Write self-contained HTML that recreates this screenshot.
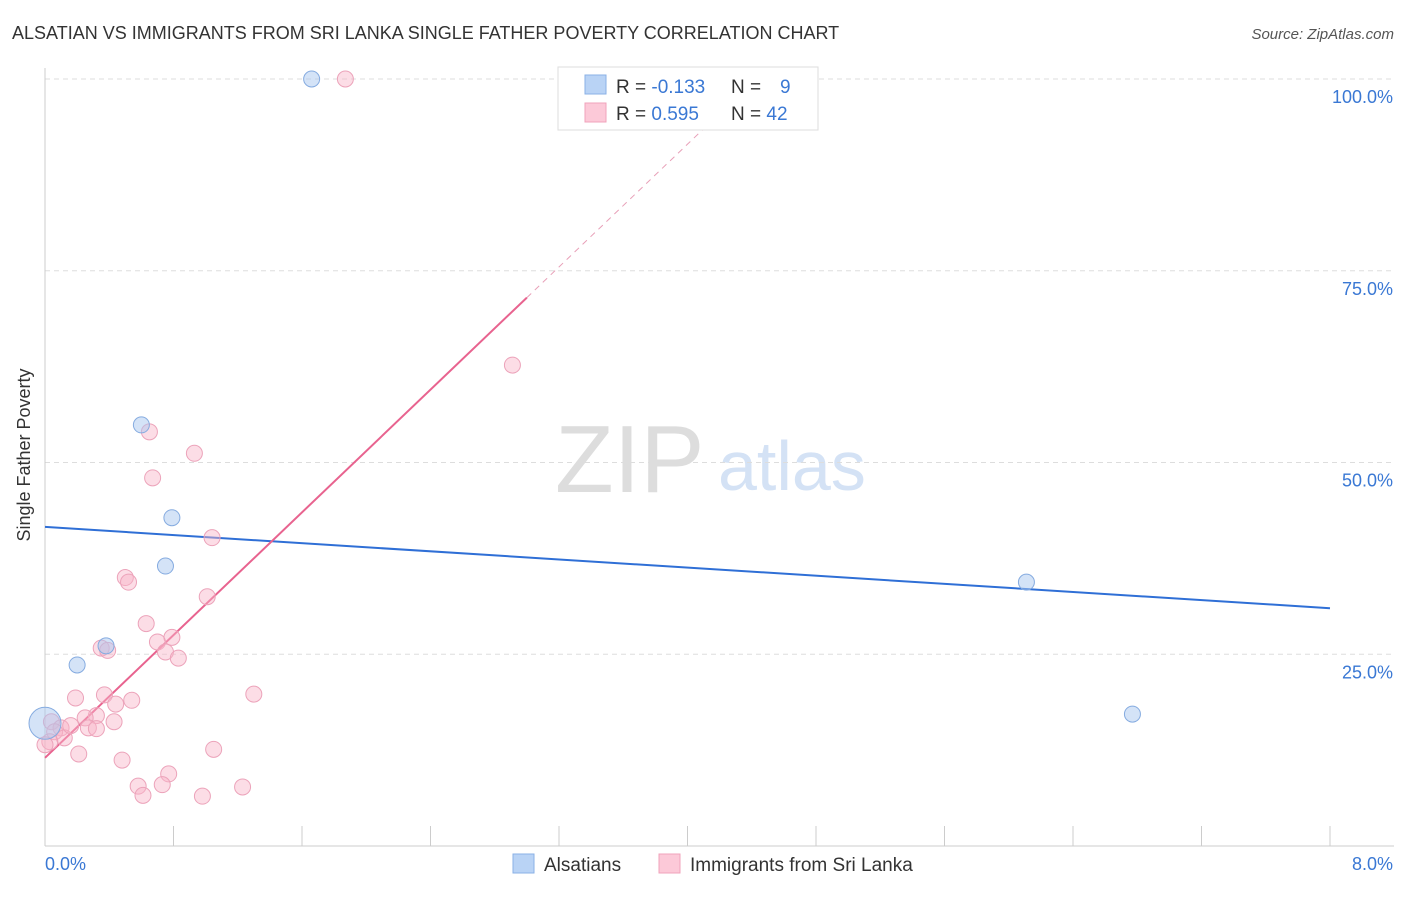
<!DOCTYPE html>
<html><head><meta charset="utf-8"><style>
body{margin:0;background:#fff;font-family:"Liberation Sans",sans-serif}
svg text{font-family:"Liberation Sans",sans-serif}
</style></head><body>
<svg id="c" width="1406" height="892">
<text x="12" y="39" font-size="18" fill="#333">ALSATIAN VS IMMIGRANTS FROM SRI LANKA SINGLE FATHER POVERTY CORRELATION CHART</text>
<text x="1394" y="39" font-size="15" fill="#555" font-style="italic" text-anchor="end">Source: ZipAtlas.com</text>
<text x="30" y="455" font-size="18" fill="#333" text-anchor="middle" transform="rotate(-90 30 455)">Single Father Poverty</text>
<text x="555" y="492" font-size="96" fill="#ddd" font-family="Liberation Serif">ZIP</text>
<text x="718" y="490" font-size="70" fill="#d4e2f5">atlas</text>
<g id="grid"></g><g id="marks"></g>
<g>
<rect x="558" y="67" width="260" height="63" fill="#fff" stroke="#ddd"/>
<rect x="585" y="75" width="21" height="19" fill="#b9d3f5" stroke="#8ab0e6"/>
<rect x="585" y="103" width="21" height="19" fill="#fcc9d8" stroke="#f0a3bb"/>
<text x="616" y="93" font-size="19" fill="#333">R = <tspan fill="#3a78d4">-0.133</tspan></text>
<text x="731" y="93" font-size="19" fill="#333">N = <tspan x="780" fill="#3a78d4">9</tspan></text>
<text x="616" y="120" font-size="19" fill="#333">R = <tspan fill="#3a78d4"> 0.595</tspan></text>
<text x="731" y="120" font-size="19" fill="#333">N = <tspan fill="#3a78d4">42</tspan></text>
</g>
<g>
<rect x="513" y="854" width="21" height="19" fill="#b9d3f5" stroke="#8ab0e6"/>
<text x="544" y="871" font-size="19" fill="#333">Alsatians</text>
<rect x="659" y="854" width="21" height="19" fill="#fcc9d8" stroke="#f0a3bb"/>
<text x="690" y="871" font-size="19" fill="#333">Immigrants from Sri Lanka</text>
</g>
</svg>
<script>
const xTicks=[0,8];
const yTicks=[25,50,75,100];
const blueX=[1.66,0.6,0.79,0.75,0.38,0.2,0.0,6.11,6.77];
const blueY=[100,54.9,42.8,36.5,26.1,23.6,16,34.4,17.2];
const pinkX=[1.87,2.91,0.65,0.93,0.67,1.04,0.5,0.52,1.01,0.63,0.79,0.7,0.35,0.39,0.75,0.83,0.19,0.37,1.3,0.54,0.44,0.32,0.25,0.43,0.04,0.1,0.27,0.32,0.06,0.12,0.03,1.05,0.21,0.48,0.77,0.58,0.73,1.23,0.61,0.98,0.16,0.0];
const pinkY=[100,62.7,54,51.2,48,40.2,35,34.4,32.5,29,27.2,26.6,25.8,25.5,25.3,24.5,19.3,19.7,19.8,19,18.5,17,16.7,16.2,16.2,15.4,15.4,15.3,14.9,14.1,13.6,12.6,12,11.2,9.4,7.8,8,7.7,6.6,6.5,15.7,13.2];
const blueTrend=[41.6,31.0];
const pinkTrend=[11.5,20];
const X=v=>45+v*(1330-45)/8, Y=v=>846-v*(846-79)/100;
const NS='http://www.w3.org/2000/svg';
function mk(t,a,p){const e=document.createElementNS(NS,t);for(const k in a)e.setAttribute(k,a[k]);p.appendChild(e);return e;}
const g=document.getElementById('grid'),m=document.getElementById('marks');
yTicks.forEach(v=>{
 const l=mk('line',{x1:45,x2:1394,y1:Y(v),y2:Y(v),stroke:'#ddd','stroke-dasharray':'5,4'},g);
 
 
 const t=mk('text',{x:1393,y:Y(v)+24,'font-size':18,fill:'#3a78d4','text-anchor':'end'},g);t.textContent=v.toFixed(1)+'%';
 
 
});
mk('line',{x1:45,x2:45,y1:68,y2:846,stroke:'#ccc'},g);
mk('line',{x1:45,x2:1394,y1:846,y2:846,stroke:'#ccc'},g);
for(let i=0;i<=10;i++){const x=X(i*0.8);mk('line',{x1:x,x2:x,y1:826,y2:846,stroke:'#ccc'},g);}
xTicks.forEach((v,i)=>{const t=mk('text',{x:i?1393:45,y:870,'font-size':18,fill:'#3a78d4','text-anchor':i?'end':'start'},g);t.textContent=v.toFixed(1)+'%';
 
 });
const bt=mk('line',{x1:X(0),y1:Y(blueTrend[0]),x2:X(8),y2:Y(blueTrend[1]),stroke:'#2f6fd6','stroke-width':2},m);


const pe=(100-pinkTrend[0])/pinkTrend[1];
const pt=mk('line',{x1:X(0),y1:Y(pinkTrend[0]),x2:X(3),y2:Y(pinkTrend[0]+3*pinkTrend[1]),stroke:'#e8638f','stroke-width':2},m);


const pd=mk('line',{x1:X(3),y1:Y(pinkTrend[0]+3*pinkTrend[1]),x2:X(pe),y2:Y(100),stroke:'#e8a0b8','stroke-width':1,'stroke-dasharray':'6,5'},m);


pinkX.forEach((v,i)=>{const c=mk('circle',{cx:X(v),cy:Y(pinkY[i]),r:8,fill:'rgba(248,180,200,0.45)',stroke:'#eca3ba','stroke-width':1},m);
 
 });
blueX.forEach((v,i)=>{const c=mk('circle',{cx:X(v),cy:Y(blueY[i]),r:i==6?16:8,fill:'rgba(170,200,240,0.5)',stroke:'#85abe0','stroke-width':1},m);
 
 });
</script>
</body></html>
